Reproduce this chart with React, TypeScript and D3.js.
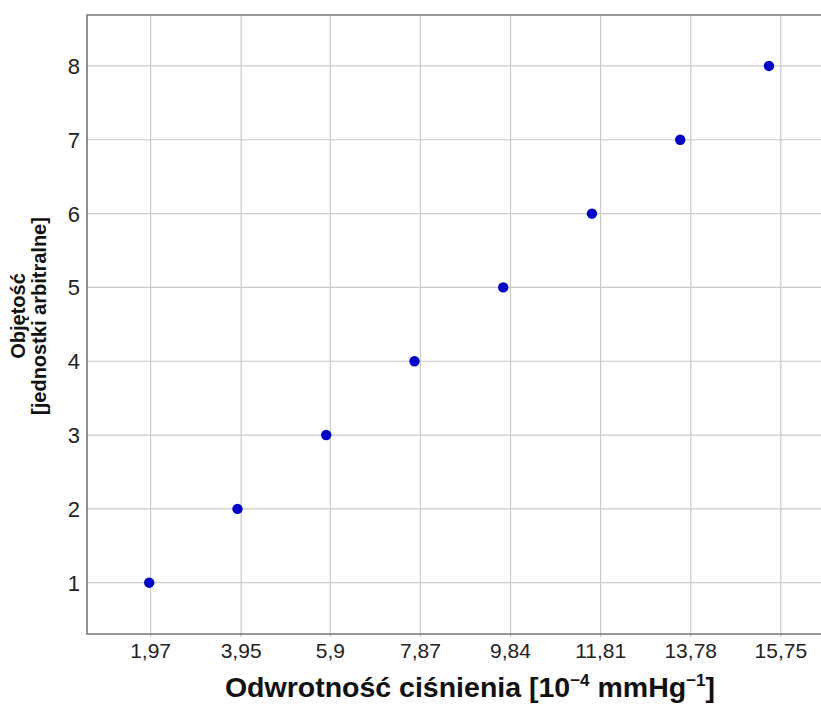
import React, { useEffect, useRef } from 'react';
import * as d3 from 'd3';

// measured points (inverse pressure vs volume)
const xValues = [1.94, 3.87, 5.81, 7.74, 9.68, 11.62, 13.55, 15.49];
const yValues = [1, 2, 3, 4, 5, 6, 7, 8];
const xTicks = [1.97, 3.95, 5.9, 7.87, 9.84, 11.81, 13.78, 15.75];
const yTicks = [1, 2, 3, 4, 5, 6, 7, 8];

const App = () => {
  const chartRef = useRef<SVGSVGElement | null>(null);

  useEffect(() => {
    const svg = d3.select(chartRef.current);
    svg.selectAll('*').remove();

    const left = 87, right = 822, top = 15, bottom = 634;
    const font = '"Liberation Sans", Arial, sans-serif';

    const x = d3.scaleLinear().domain([0.58, 16.65]).range([left, right]);
    const y = d3.scaleLinear().domain([0.305, 8.69]).range([bottom, top]);

    svg.append('rect')
      .attr('width', 821).attr('height', 704).attr('fill', '#fff');

    // grid
    svg.append('g')
      .selectAll('line')
      .data(xTicks)
      .enter()
      .append('line')
        .attr('x1', d => x(d)).attr('x2', d => x(d))
        .attr('y1', top).attr('y2', bottom + 3)
        .attr('stroke', '#c9c9c9').attr('stroke-width', 1.2);

    svg.append('g')
      .selectAll('line')
      .data(yTicks)
      .enter()
      .append('line')
        .attr('x1', left).attr('x2', right)
        .attr('y1', d => y(d)).attr('y2', d => y(d))
        .attr('stroke', '#c9c9c9').attr('stroke-width', 1.2);

    // frame
    svg.append('path')
      .attr('d', `M${right},${top}H${left}V${bottom}H${right}`)
      .attr('fill', 'none')
      .attr('stroke', '#777')
      .attr('stroke-width', 1.6);

    // tick labels
    const fmt = (d: number) => String(d).replace('.', ',');
    svg.append('g')
      .selectAll('text')
      .data(xTicks)
      .enter()
      .append('text')
        .attr('x', d => x(d))
        .attr('y', 658)
        .attr('text-anchor', 'middle')
        .style('font-family', font)
        .style('font-size', '21px')
        .attr('fill', '#222')
        .text(fmt);

    svg.append('g')
      .selectAll('text')
      .data(yTicks)
      .enter()
      .append('text')
        .attr('x', 80)
        .attr('y', d => y(d))
        .attr('dy', '0.36em')
        .attr('text-anchor', 'end')
        .style('font-family', font)
        .style('font-size', '22px')
        .attr('fill', '#222')
        .text(d => String(d));

    // points
    svg.append('g')
      .selectAll('circle')
      .data(xValues.map((v, i) => [v, yValues[i]]))
      .enter()
      .append('circle')
        .attr('cx', d => x(d[0]))
        .attr('cy', d => y(d[1]))
        .attr('r', 5.2)
        .attr('fill', '#0000cc');

    // x title
    const xt = svg.append('text')
      .attr('x', 470)
      .attr('y', 697)
      .attr('text-anchor', 'middle')
      .style('font-family', font)
      .style('font-size', '28.5px')
      .style('font-weight', 'bold')
      .attr('fill', '#111');
    xt.append('tspan').text('Odwrotność ciśnienia [10');
    xt.append('tspan').attr('dy', -11).style('font-size', '17px').text('−4');
    xt.append('tspan').attr('dy', 11).text(' mmHg');
    xt.append('tspan').attr('dy', -11).style('font-size', '17px').text('−1');
    xt.append('tspan').attr('dy', 11).text(']');

    // y title
    const yt = svg.append('text')
      .attr('transform', 'translate(25,316) rotate(-90)')
      .attr('text-anchor', 'middle')
      .style('font-family', font)
      .style('font-size', '20px')
      .style('font-weight', 'bold')
      .attr('fill', '#111');
    yt.append('tspan').attr('x', 0).attr('y', 0).text('Objętość');
    yt.append('tspan').attr('x', 0).attr('y', 21).text('[jednostki arbitralne]');
  }, []);

  return (
    <svg
      ref={chartRef}
      width={821}
      height={704}
      style={{ position: 'absolute', left: 0, top: 0, display: 'block' }}
    />
  );
};

export default App;
